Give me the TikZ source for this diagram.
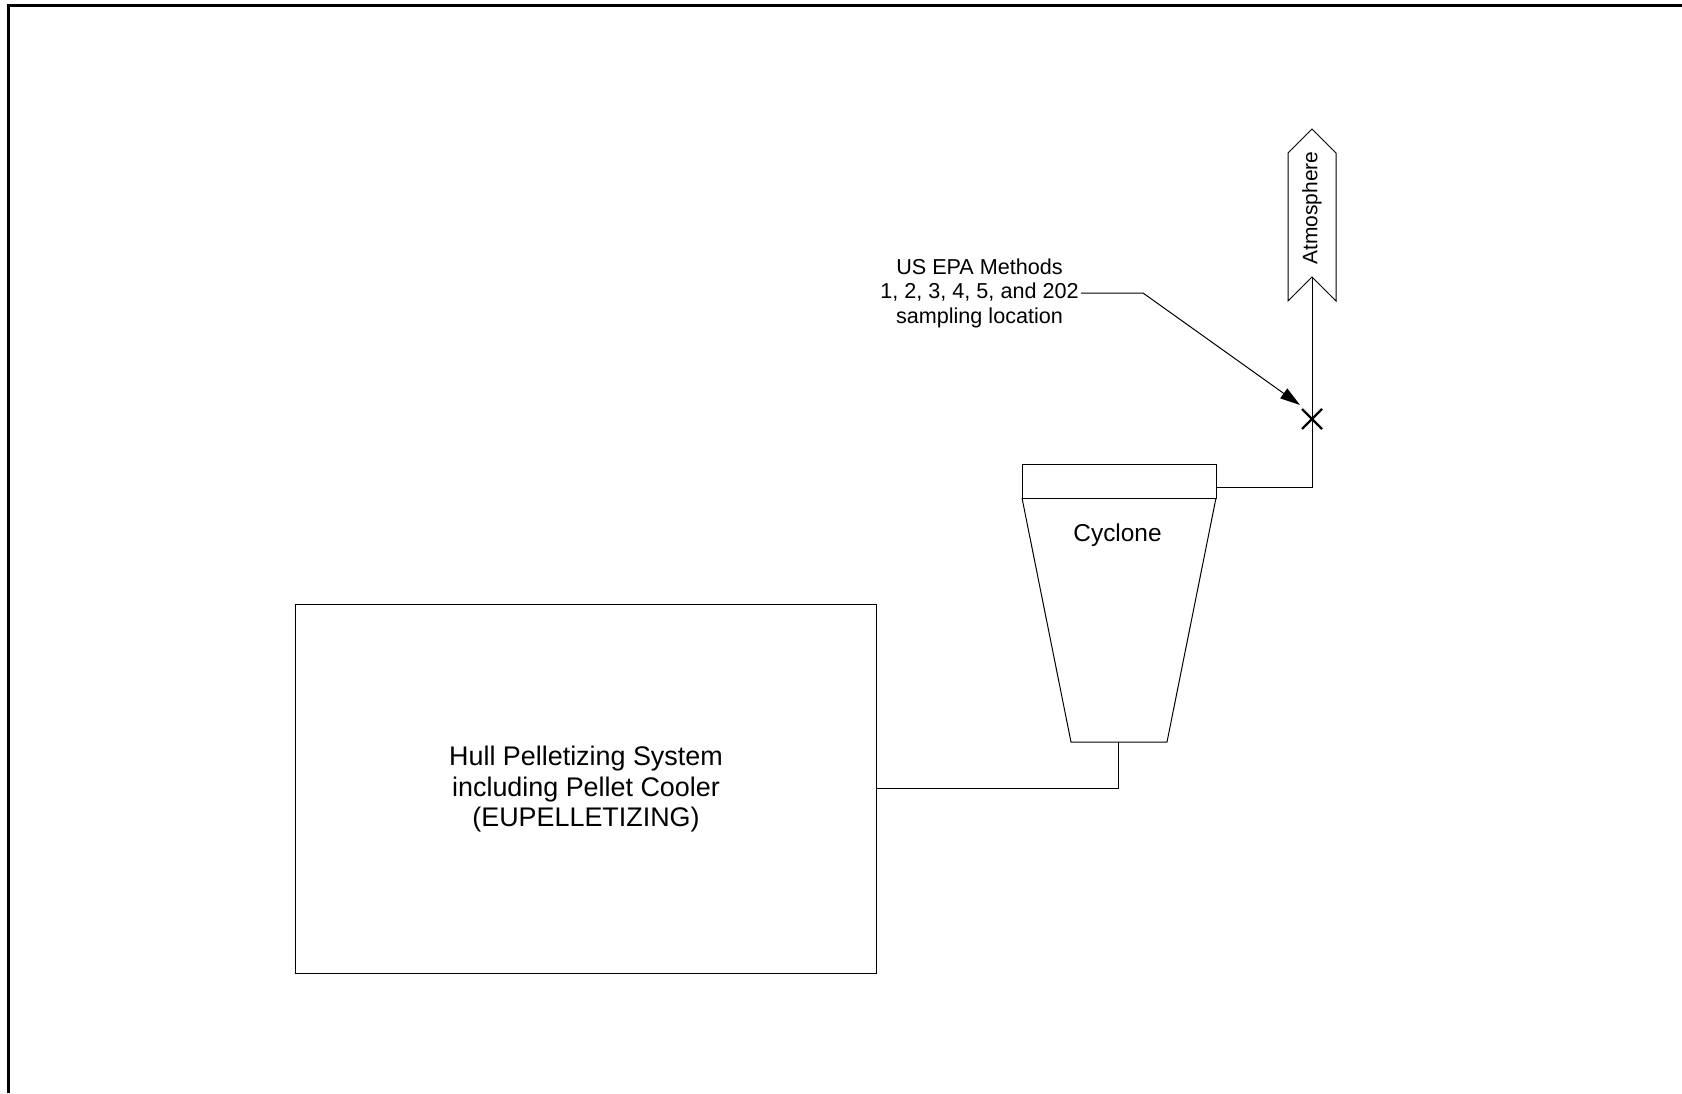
\documentclass[tikz,border=0pt]{standalone}
\usepackage{fontspec}
\setmainfont{Liberation Sans}
\usetikzlibrary{arrows.meta}
\begin{document}
\begin{tikzpicture}[x=1pt,y=-1pt,
  thinline/.style={line width=1pt,draw=black},
  boxstyle/.style={thinline,rectangle,inner sep=0pt},
  lbl/.style={inner sep=0pt,align=center}]
\useasboundingbox (0,0) rectangle (1682,1093);
% frame
\draw[line width=3pt] (8.5,1093) -- (8.5,5.5) -- (1682,5.5);
% main box
\node[boxstyle,minimum width=581pt,minimum height=369pt] (hull) at (585.5,788.5) {};
\node[lbl,font=\fontsize{26.9}{30.5}\selectfont] (hulltxt) at (586,789.5) {Hull Pelletizing System\\including Pellet Cooler\\(EUPELLETIZING)};
% cyclone
\node[boxstyle,minimum width=194pt,minimum height=34pt] (cyctop) at (1119,481) {};
\coordinate (tl) at (1022,498);
\coordinate (tr) at (1216,498);
\coordinate (bl) at (1071,742);
\coordinate (br) at (1167,742);
\coordinate (cycbot) at (1118,742);
\draw[thinline] (tl) -- (bl) -- (br) -- (tr);
\node[lbl,font=\fontsize{24.4}{28}\selectfont] (cyctxt) at (1117.5,535) {Cyclone};
% atmosphere flag
\coordinate (notch) at (1312,277);
\draw[thinline] (notch) -- (1288,301) -- (1288,153) -- (1312,129) -- (1336,153) -- (1336,301) -- cycle;
\node[lbl,rotate=90,font=\fontsize{21}{24}\selectfont] (atm) at (1312,208) {Atmosphere};
% connectors
\coordinate (outlet) at (1216,487);
\coordinate (xm) at (1312,419);
\draw[thinline] (hull.east |- 0,788) -- (1118,788) -- (cycbot);
\draw[thinline] (outlet) -- (1312,487) -- (xm) -- (notch);
% X marker
\draw[line width=2.3pt] (xm) ++(-10,-10) -- ++(20,20);
\draw[line width=2.3pt] (xm) ++(-10,10) -- ++(20,-20);
% label
\node[lbl,font=\fontsize{21.6}{24.5}\selectfont] (epa) at (979.5,293) {US EPA Methods\\1, 2, 3, 4, 5, and 202\\sampling location};
\coordinate (tip) at (1300,405);
\draw[thinline,-{Triangle[length=20pt,width=12pt]}] (epa.east) ++(2,0) -- (1143,293) -- (tip);
\end{tikzpicture}
\end{document}
